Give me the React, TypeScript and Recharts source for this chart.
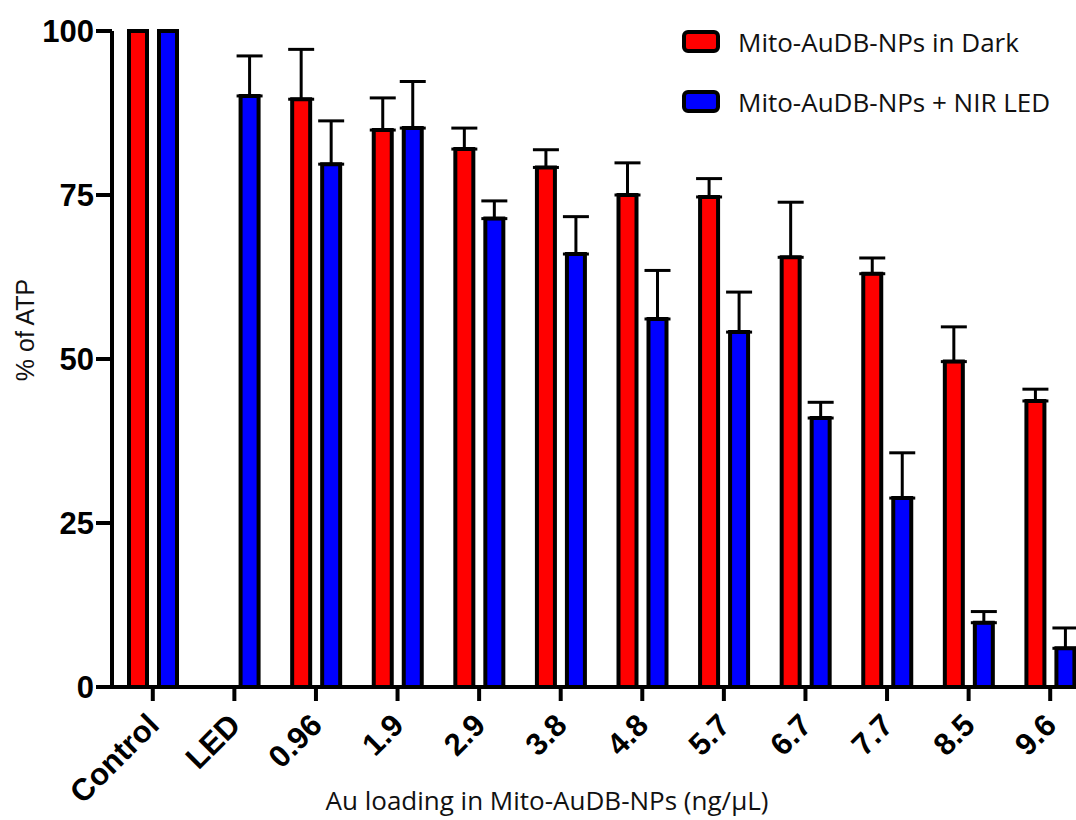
import React from "react";
import { BarChart, Bar, XAxis, YAxis, ErrorBar } from "recharts";

const categories = ["Control", "LED", "0.96", "1.9", "2.9", "3.8", "4.8", "5.7", "6.7", "7.7", "8.5", "9.6"];
const darkValues: (number | null)[] = [100, null, 89.6, 84.9, 82.0, 79.2, 75.0, 74.7, 65.5, 63.0, 49.6, 43.6];
const darkErrors: (number | null)[] = [0, null, 7.6, 4.9, 3.2, 2.7, 4.9, 2.8, 8.4, 2.4, 5.3, 1.8];
const ledValues: number[] = [100, 90.1, 79.7, 85.2, 71.4, 66.0, 56.1, 54.1, 41.0, 28.8, 9.8, 5.9];
const ledErrors: number[] = [0, 6.1, 6.6, 7.1, 2.7, 5.7, 7.4, 6.1, 2.4, 6.9, 1.7, 3.1];
const yTicks = [0, 25, 50, 75, 100];

const seriesNames = ["Mito-AuDB-NPs in Dark", "Mito-AuDB-NPs + NIR LED"];
const seriesColors = ["#FF0000", "#0000FF"];

const data = categories.map((c, i) => ({
  name: c,
  dark: darkValues[i],
  darkErr: darkErrors[i] == null || darkErrors[i] === 0 ? null : [0, darkErrors[i]],
  led: ledValues[i],
  ledErr: ledErrors[i] === 0 ? null : [0, ledErrors[i]],
}));

const XTick = (props: any) => {
  const { x, y, payload } = props;
  return (
    <g transform={`translate(${x + 8},${y + 24})`}>
      <text
        textAnchor="end"
        transform="rotate(-45)"
        fontWeight="bold"
        fontSize={31}
        fontFamily="'Liberation Sans', Arial, sans-serif"
        fill="#000"
      >
        {payload.value}
      </text>
    </g>
  );
};

const YTick = (props: any) => {
  const { x, y, payload } = props;
  return (
    <text
      x={x}
      y={y}
      dy="0.36em"
      textAnchor="end"
      fontWeight="bold"
      fontSize={31}
      fontFamily="'Liberation Sans', Arial, sans-serif"
      fill="#000"
    >
      {payload.value}
    </text>
  );
};

const YLabel = () => (
  <text
    transform="translate(34,330) rotate(-90)"
    textAnchor="middle"
    fontSize={25}
    fontFamily="'Liberation Sans', Arial, sans-serif"
    fill="#111"
  >
    % of ATP
  </text>
);

const XLabel = () => (
  <text
    x={547}
    y={810}
    textAnchor="middle"
    fontSize={26}
    fontFamily="'Open Sans', sans-serif"
    fill="#111"
  >
    Au loading in Mito-AuDB-NPs (ng/µL)
  </text>
);

export default function App() {
  return (
    <div style={{ position: "fixed", left: 0, top: 0, width: 1076, height: 820, overflow: "hidden", background: "#fff" }}>
      <BarChart
        width={1100}
        height={820}
        data={data}
        margin={{ top: 31, right: 9, left: 0, bottom: 13 }}
        barSize={18}
        barGap={12}
      >
        <XAxis
          dataKey="name"
          height={120}
          interval={0}
          tick={<XTick />}
          tickSize={14}
          axisLine={{ stroke: "#000", strokeWidth: 4 }}
          tickLine={{ stroke: "#000", strokeWidth: 4 }}
          label={<XLabel />}
        />
        <YAxis
          width={112}
          domain={[0, 100]}
          ticks={yTicks}
          interval={0}
          tick={<YTick />}
          tickSize={16}
          axisLine={{ stroke: "#000", strokeWidth: 4 }}
          tickLine={{ stroke: "#000", strokeWidth: 4 }}
          label={<YLabel />}
        />
        <Bar dataKey="dark" name={seriesNames[0]} fill={seriesColors[0]} stroke="#000" strokeWidth={4} isAnimationActive={false}>
          <ErrorBar dataKey="darkErr" width={13} stroke="#000" strokeWidth={3} direction="y" />
        </Bar>
        <Bar dataKey="led" name={seriesNames[1]} fill={seriesColors[1]} stroke="#000" strokeWidth={4} isAnimationActive={false}>
          <ErrorBar dataKey="ledErr" width={13} stroke="#000" strokeWidth={3} direction="y" />
        </Bar>
      </BarChart>
      <div
        style={{
          position: "absolute",
          left: 681,
          top: 12,
          fontFamily: "'Open Sans', sans-serif",
          fontSize: 26,
          color: "#111",
        }}
      >
        {seriesNames.map((n, i) => (
          <div key={n} style={{ display: "flex", alignItems: "center", height: 60 }}>
            <svg width={44} height={26} style={{ marginRight: 13, flex: "none" }}>
              <rect x={3} y={3} width={34} height={19} rx={4} fill={seriesColors[i]} stroke="#000" strokeWidth={4} />
            </svg>
            <span style={{ whiteSpace: "nowrap" }}>{n}</span>
          </div>
        ))}
      </div>
    </div>
  );
}
